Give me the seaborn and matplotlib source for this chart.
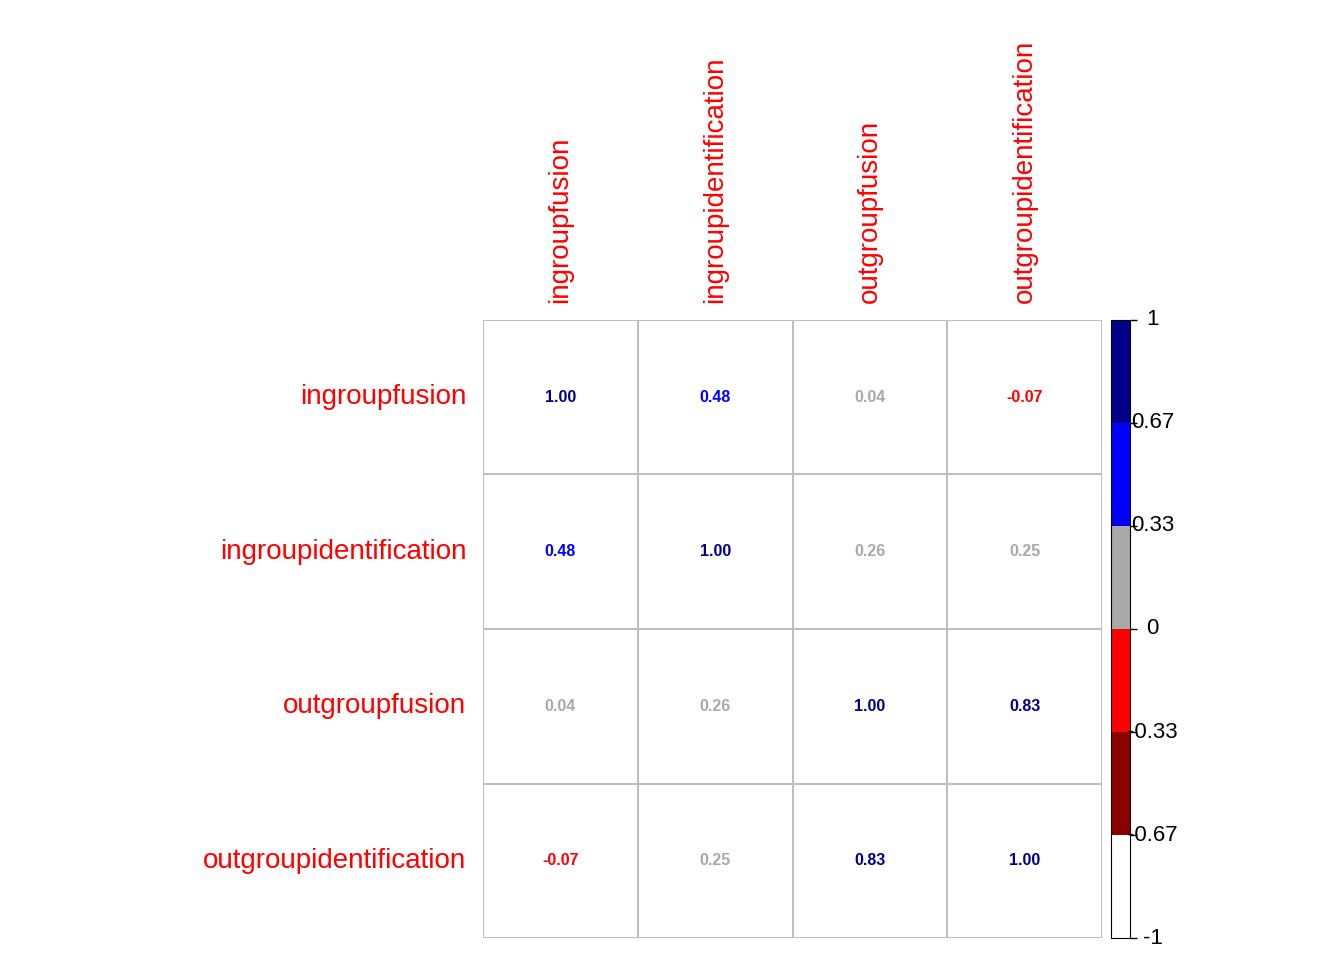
import numpy as np
import pandas as pd
import seaborn as sns
import matplotlib.pyplot as plt
from matplotlib.colors import ListedColormap, BoundaryNorm
import matplotlib as mpl

labels = ["ingroupfusion", "ingroupidentification", "outgroupfusion", "outgroupidentification"]
corr = [
    [1.00, 0.48, 0.04, -0.07],
    [0.48, 1.00, 0.26, 0.25],
    [0.04, 0.26, 1.00, 0.83],
    [-0.07, 0.25, 0.83, 1.00],
]
bounds = [-1, -0.67, -0.33, 0, 0.33, 0.67, 1]
band_colors = ["#FFFFFF", "#8B0000", "#FF0000", "#A9A9A9", "#0000FF", "#00008B"]
tick_labels = ["-1", "-0.67", "-0.33", "0", "0.33", "0.67", "1"]

df = pd.DataFrame(corr, index=labels, columns=labels)
cmap = ListedColormap(band_colors)
norm = BoundaryNorm(bounds, cmap.N)

plt.rcParams["font.family"] = ["Liberation Sans", "DejaVu Sans"]
fig = plt.figure(figsize=(13.44, 9.6), dpi=100)
ax = fig.add_axes([0.3594, 0.0229, 0.4606, 0.6438])
sns.heatmap(np.zeros_like(df.values), ax=ax, cmap=ListedColormap(["white"]), cbar=False,
            linewidths=1.2, linecolor="#BEBEBE", xticklabels=labels, yticklabels=labels)
for i in range(len(labels)):
    for j in range(len(labels)):
        v = df.values[i, j]
        ax.text(j + 0.5, i + 0.5, f"{v:.2f}", ha="center", va="center", fontsize=11.5,
                fontweight="bold", color=cmap(norm(v)))
ax.xaxis.tick_top()
ax.tick_params(length=0, pad=12)
ax.set_xticklabels(labels, rotation=90, color="red", fontsize=20)
ax.set_yticklabels(labels, rotation=0, color="red", fontsize=20)
for s in ax.spines.values():
    s.set_visible(False)

cax = fig.add_axes([0.8266, 0.0229, 0.0141, 0.6438])
cb = mpl.colorbar.ColorbarBase(cax, cmap=cmap, norm=norm, boundaries=bounds, ticks=bounds)
cb.outline.set_edgecolor("black")
cb.set_ticklabels([""] * len(bounds))
cax.tick_params(length=5, width=1, direction="out")
for b, t in zip(bounds, tick_labels):
    cax.text(2.2, b, t, ha="center", va="center", fontsize=16,
             transform=cax.get_yaxis_transform())

fig.savefig("out.png", dpi=100)
